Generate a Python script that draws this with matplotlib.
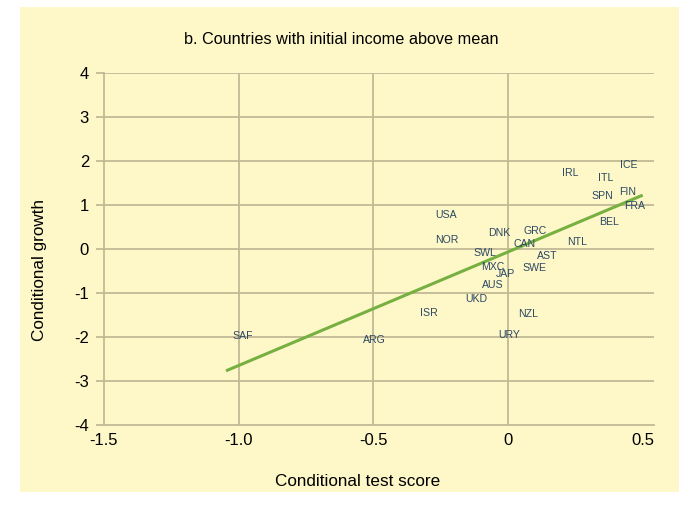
import matplotlib
matplotlib.use("Agg")
import matplotlib.pyplot as plt
from matplotlib.patches import Rectangle

# country labels placed at (test score, growth)
countries = ["ICE", "IRL", "ITL", "SPN", "FIN", "FRA", "BEL", "USA", "NOR",
             "DNK", "GRC", "CAN", "NTL", "SWL", "AST", "MXC", "SWE", "JAP",
             "AUS", "UKD", "ISR", "NZL", "URY", "SAF", "ARG"]
test_score = [0.450, 0.230, 0.364, 0.350, 0.444, 0.469, 0.375, -0.230, -0.227,
              -0.032, 0.099, 0.061, 0.255, -0.085, 0.145, -0.057, 0.097, -0.009,
              -0.055, -0.116, -0.292, 0.074, 0.005, -0.985, -0.496]
growth = [1.90, 1.72, 1.61, 1.19, 1.29, 0.98, 0.61, 0.78, 0.21,
          0.37, 0.41, 0.12, 0.15, -0.10, -0.17, -0.42, -0.44, -0.58,
          -0.83, -1.14, -1.46, -1.48, -1.95, -1.97, -2.07]

# fitted line end points
fit_x = [-1.047, 0.500]
fit_y = [-2.77, 1.22]

xticks = [-1.5, -1.0, -0.5, 0, 0.5]
xtick_labels = ["-1.5", "-1.0", "-0.5", "0", "0.5"]
yticks = [-4, -3, -2, -1, 0, 1, 2, 3, 4]
ytick_labels = ["-4", "-3", "-2", "-1", "0", "1", "2", "3", "4"]
vgrid = [-1.0, -0.5, 0]

BG = "#fef7c8"
GRID = "#c2b994"
TXT = "#2b4863"

plt.rcParams['font.family'] = ['Liberation Sans', 'DejaVu Sans']

fig = plt.figure(figsize=(6.79, 5.05), dpi=100)
fig.patch.set_facecolor("white")
bg = Rectangle((20/679, 13/505), 1 - 20/679, 1 - 20/505,
               transform=fig.transFigure, facecolor=BG,
               edgecolor="none", zorder=-10)
fig.add_artist(bg)

ax = fig.add_axes([104/679, 1 - 425/505, 550/679, 352.3/505])
ax.set_facecolor(BG)
ax.set_xlim(-1.5, 0.542)
ax.set_ylim(-4, 4)

for y in yticks[1:]:
    ax.axhline(y, color=GRID, lw=1.3, zorder=1)
for x in vgrid:
    ax.axvline(x, color=GRID, lw=1.3, zorder=1)

ax.plot(fit_x, fit_y, color="#76b041", lw=2.2, zorder=3, solid_capstyle="butt")

for name, x, y in zip(countries, test_score, growth):
    ax.text(x, y, name, fontsize=7.6, color=TXT, ha="center", va="center", zorder=4)

for side in ["top", "right"]:
    ax.spines[side].set_visible(False)
for side in ["left", "bottom"]:
    ax.spines[side].set_color(GRID)
    ax.spines[side].set_linewidth(1.3)

ax.set_xticks(xticks)
ax.set_xticklabels(xtick_labels)
ax.set_yticks(yticks)
ax.set_yticklabels(ytick_labels)
ax.tick_params(axis="x", length=0, pad=6, labelsize=12)
ax.tick_params(axis="y", length=5.8, width=1.3, color=GRID, pad=5, labelsize=12)

fig.text(341/679, 1 - 40/505, "b. Countries with initial income above mean",
         ha="center", va="center", fontsize=11.7)
fig.text(358/679, 1 - 481/505, "Conditional test score",
         ha="center", va="center", fontsize=12.3)
fig.text(40/679, 1 - 270/505, "Conditional growth", rotation=90,
         ha="center", va="center", fontsize=12.3)

fig.savefig("out.png", dpi=100, facecolor=fig.get_facecolor())
